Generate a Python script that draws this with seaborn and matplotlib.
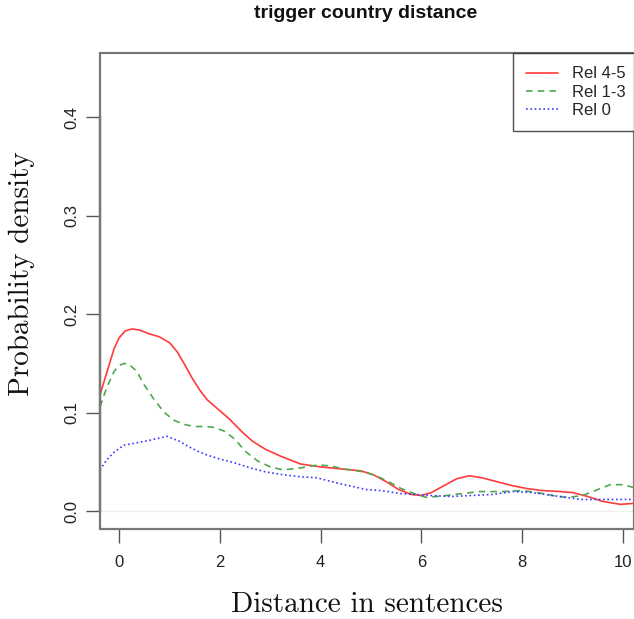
import matplotlib
matplotlib.use("Agg")
import matplotlib.pyplot as plt
import seaborn as sns
from matplotlib.patches import Rectangle

# ---- data ----
x_rel45 = [-0.38, -0.25, -0.1, 0.0, 0.12, 0.25, 0.4, 0.6, 0.8, 1.0, 1.15, 1.3, 1.45, 1.6, 1.75,
           2.0, 2.2, 2.45, 2.65, 2.9, 3.2, 3.6, 4.0, 4.4, 4.8, 5.05, 5.3, 5.55, 5.8, 6.0, 6.2,
           6.45, 6.7, 6.95, 7.2, 7.5, 7.8, 8.1, 8.4, 8.75, 9.0, 9.3, 9.6, 9.95, 10.22]
y_rel45 = [0.118, 0.140, 0.165, 0.176, 0.183, 0.185, 0.184, 0.180, 0.177, 0.171, 0.162, 0.149,
           0.135, 0.123, 0.113, 0.102, 0.093, 0.080, 0.071, 0.063, 0.056, 0.048, 0.045, 0.043,
           0.041, 0.037, 0.030, 0.022, 0.017, 0.016, 0.019, 0.026, 0.033, 0.036, 0.034, 0.030,
           0.026, 0.023, 0.021, 0.020, 0.019, 0.015, 0.010, 0.007, 0.008]

x_rel13 = [-0.38, -0.25, -0.1, 0.0, 0.1, 0.2, 0.35, 0.5, 0.7, 0.9, 1.1, 1.3, 1.5, 1.7, 1.9,
           2.1, 2.3, 2.5, 2.75, 3.0, 3.25, 3.6, 3.95, 4.2, 4.45, 4.85, 5.1, 5.35, 5.6, 5.85,
           6.1, 6.5, 7.15, 7.6, 8.0, 8.3, 8.6, 8.9, 9.2, 9.45, 9.75, 10.0, 10.22]
y_rel13 = [0.106, 0.125, 0.142, 0.148, 0.150, 0.149, 0.142, 0.128, 0.113, 0.100, 0.092, 0.088,
           0.086, 0.086, 0.085, 0.081, 0.073, 0.061, 0.051, 0.045, 0.042, 0.044, 0.047, 0.046,
           0.043, 0.040, 0.036, 0.030, 0.023, 0.018, 0.014, 0.016, 0.020, 0.020, 0.021, 0.019,
           0.016, 0.014, 0.016, 0.021, 0.027, 0.027, 0.024]

x_rel0 = [-0.38, -0.25, -0.1, 0.09, 0.3, 0.6, 0.95, 1.2, 1.4, 1.6, 1.75, 2.0, 2.3, 2.6, 2.9,
          3.26, 3.6, 3.92, 4.15, 4.38, 4.65, 4.91, 5.2, 5.58, 5.9, 6.17, 6.6, 7.0, 7.4, 7.82,
          8.2, 8.6, 9.15, 9.6, 10.0, 10.22]
y_rel0 = [0.042, 0.052, 0.060, 0.067, 0.069, 0.072, 0.076, 0.071, 0.065, 0.060, 0.057, 0.053,
          0.049, 0.044, 0.040, 0.037, 0.035, 0.034, 0.031, 0.028, 0.025, 0.022, 0.021, 0.018,
          0.017, 0.016, 0.015, 0.016, 0.017, 0.020, 0.019, 0.016, 0.012, 0.012, 0.012, 0.012]

series_labels = ["Rel 4-5", "Rel 1-3", "Rel 0"]
x_ticks = [0, 2, 4, 6, 8, 10]
y_ticks = [0.0, 0.1, 0.2, 0.3, 0.4]
title = "trigger country distance"
x_label = "Distance in sentences"
y_label = "Probability density"

sns.set_theme(style="white")
plt.rcParams["font.family"] = ["Liberation Sans", "DejaVu Sans"]

fig = plt.figure(figsize=(6.34, 6.19), dpi=100)
ax = fig.add_axes([100 / 634, 1 - 529 / 619, 534 / 634, (529 - 53) / 619])

ax.axhline(0, color="#eeeeee", lw=1, zorder=0)

sns.lineplot(x=x_rel45, y=y_rel45, ax=ax, color="#ff3b3b", lw=1.2, linestyle="-",
             label=series_labels[0], sort=False, estimator=None)
sns.lineplot(x=x_rel13, y=y_rel13, ax=ax, color="#4fa84f", lw=1.2, linestyle=(0, (4, 3)),
             label=series_labels[1], sort=False, estimator=None)
sns.lineplot(x=x_rel0, y=y_rel0, ax=ax, color="#3a3aff", lw=1.2, linestyle=(0, (1, 1.6)),
             label=series_labels[2], sort=False, estimator=None)

ax.set_xlim(-0.38, 10.22)
ax.set_ylim(-0.018, 0.465)

for s in ["top", "right", "bottom"]:
    ax.spines[s].set_visible(False)
ax.spines["left"].set_bounds(0, 0.4)
ax.spines["left"].set_color("#333333")
ax.spines["left"].set_linewidth(1.6)

box = Rectangle((0, 0), 1, 1, transform=ax.transAxes, fill=False,
                edgecolor="#777777", lw=1.6, clip_on=False, zorder=5)
ax.add_patch(box)

ax.set_xticks(x_ticks)
ax.set_xticklabels([str(v) for v in x_ticks])
ax.set_yticks(y_ticks)
ax.set_yticklabels([f"{v:.1f}" for v in y_ticks], rotation=90, va="center")
ax.tick_params(axis="both", direction="out", length=10, width=1, color="#555555",
               labelsize=12, labelcolor="#222222", left=True, bottom=True)
ax.tick_params(axis="x", pad=8.5)
ax.tick_params(axis="y", pad=4.5)

ax.set_xlabel("")
ax.set_ylabel("")
fig.text(366 / 634, 1 - 14 / 619, title, ha="center", va="center",
         fontsize=14, fontweight="bold", color="#111111")
fig.text(367 / 634, 1 - 605 / 619, x_label, ha="center", va="center",
         fontsize=21, family=["cmr10", "DejaVu Serif"], color="#111111")
fig.text(22 / 634, 1 - 274 / 619, y_label, ha="center", va="center", rotation=90,
         fontsize=21, family=["cmr10", "DejaVu Serif"], color="#111111")

leg = ax.legend(loc="upper left", bbox_to_anchor=((513 - 100) / 534, 1.0), frameon=True,
                fancybox=False, borderaxespad=0, fontsize=12, handlelength=1.9,
                handletextpad=0.85, borderpad=0.8, labelspacing=0.2)
leg.get_frame().set_edgecolor("#222222")
leg.get_frame().set_linewidth(1.0)

fig.savefig("out.png", dpi=100)
